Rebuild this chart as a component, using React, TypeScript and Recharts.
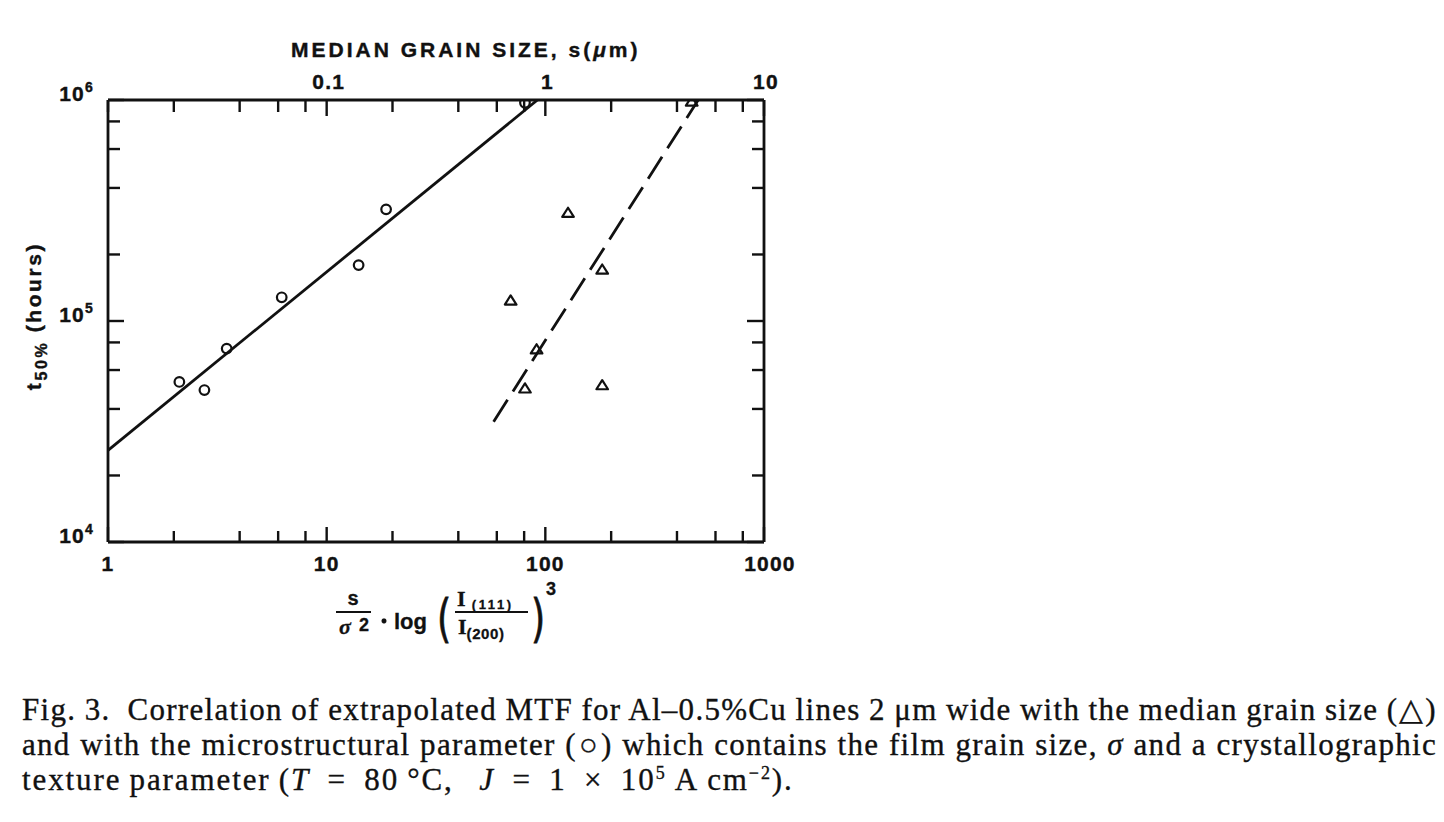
import React from 'react';
import { ComposedChart, Scatter, XAxis, YAxis } from 'recharts';

// ---- data ----
// microstructural parameter (circles): x = s/σ²·log(I111/I200)^3, y = t50% (hours)
const circleX = [2.12, 2.76, 3.49, 6.23, 14.0, 18.7, 80.7];
const circleY = [53000, 48700, 75000, 128000, 179000, 320000, 972000];
// median grain size (triangles), plotted against the top axis (s in μm = bottom/100)
const triangleX = [69.4, 80.7, 91.2, 127, 182, 182, 467];
const triangleY = [124000, 49600, 74500, 309000, 171000, 51300, 985000];
// fitted lines
const solidFitX = [1, 92];
const solidFitY = [26000, 1000000];
const dashedFitX = [58, 500];
const dashedFitY = [35000, 1000000];

// ---- axes ----
const xTicks = [1, 2, 4, 6, 8, 10, 20, 40, 60, 80, 100, 200, 400, 600, 800, 1000];
const xMajor = [1, 10, 100, 1000];
const xMajorLabels = ['1', '10', '100', '1000'];
const topTicks = [0.01, 0.02, 0.04, 0.06, 0.08, 0.1, 0.2, 0.4, 0.6, 0.8, 1, 2, 4, 6, 8, 10];
const topMajor = [0.1, 1, 10];
const topMajorLabels = ['0.1', '1', '10'];
const yTicks = [10000, 20000, 40000, 60000, 80000, 100000, 200000, 400000, 600000, 800000, 1000000];
const yMajor = [10000, 100000, 1000000];
const yMajorExp = ['4', '5', '6'];

const circleData = circleX.map((x, i) => ({ x, y: circleY[i] }));
const triangleData = triangleX.map((x, i) => ({ x, y: triangleY[i] }));
const solidData = solidFitX.map((x, i) => ({ x, y: solidFitY[i] }));
const dashedData = dashedFitX.map((x, i) => ({ x, y: dashedFitY[i] }));

const SANS = '"Liberation Sans", Arial, sans-serif';
const SERIF = '"Liberation Serif", "Times New Roman", serif';
const INK = '#111';

const idx = (arr: number[], v: number) => arr.findIndex((a) => Math.abs(a - v) / a < 1e-6);

const labelStyle = {
  fontFamily: SANS,
  fontWeight: 700,
  fontSize: 21,
  letterSpacing: 1.2,
  fill: INK,
  stroke: INK,
  strokeWidth: 0.4,
} as const;

const BottomTick = (p: any) => {
  const { x, y, payload } = p;
  const i = idx(xMajor, payload.value);
  const len = i >= 0 ? 15 : 11;
  return (
    <g>
      <line x1={x} x2={x} y1={y} y2={y - len} stroke={INK} strokeWidth={2.4} />
      {i >= 0 && (
        <text x={x + (i === 3 ? 6 : 0)} y={y + 29} textAnchor="middle" {...labelStyle}>
          {xMajorLabels[i]}
        </text>
      )}
    </g>
  );
};

const TopTick = (p: any) => {
  const { x, y, payload } = p;
  const i = idx(topMajor, payload.value);
  const len = i >= 0 ? 16 : 12;
  return (
    <g>
      <line x1={x} x2={x} y1={y} y2={y + len} stroke={INK} strokeWidth={2.4} />
      {i >= 0 && (
        <text x={x + 2} y={y - 11} textAnchor="middle" {...labelStyle}>
          {topMajorLabels[i]}
        </text>
      )}
    </g>
  );
};

const LeftTick = (p: any) => {
  const { x, y, payload } = p;
  const i = idx(yMajor, payload.value);
  const len = i >= 0 ? 16 : 12;
  return (
    <g>
      <line x1={x} x2={x + len} y1={y} y2={y} stroke={INK} strokeWidth={2.4} />
      {i >= 0 && (
        <text x={x - 14} y={y + 1} textAnchor="end" {...labelStyle}>
          <tspan>10</tspan>
          <tspan dy={-9} fontSize={14}>{yMajorExp[i]}</tspan>
        </text>
      )}
    </g>
  );
};

const RightTick = (p: any) => {
  const { x, y, payload } = p;
  const i = idx(yMajor, payload.value);
  const len = i >= 0 ? 17 : 12;
  return <line x1={x} x2={x - len} y1={y} y2={y} stroke={INK} strokeWidth={2.4} />;
};

const CircleShape = (p: any) => (
  <circle cx={p.cx} cy={p.cy} r={4.8} fill="none" stroke={INK} strokeWidth={2.2} />
);
const TriangleShape = (p: any) => {
  const { cx, cy } = p;
  return (
    <path
      d={`M${cx},${cy - 5} L${cx + 5.8},${cy + 4.2} L${cx - 5.8},${cy + 4.2} Z`}
      fill="none"
      stroke={INK}
      strokeWidth={2.2}
      strokeLinejoin="round"
    />
  );
};
const NoShape = () => <g />;

const axisCommon = {
  type: 'number' as const,
  scale: 'log' as const,
  allowDataOverflow: true,
  interval: 0 as const,
  tickLine: false,
  tickSize: 0,
  tickMargin: 0,
  axisLine: { stroke: INK, strokeWidth: 2.8 },
};

const EN = '\u2002';
const NB = '\u00a0';

export default function App() {
  return (
    <div style={{ position: 'absolute', left: 0, top: 0, width: 1444, height: 822, background: '#fff', overflow: 'hidden' }}>
      <ComposedChart
        width={1444}
        height={822}
        margin={{ top: 70, left: 48, right: 620, bottom: 250 }}
        style={{ position: 'absolute', left: 0, top: 0 }}
      >
        <XAxis {...axisCommon} xAxisId="bottom" dataKey="x" orientation="bottom" height={30} domain={[1, 1000]} ticks={xTicks} tick={<BottomTick />} />
        <XAxis {...axisCommon} xAxisId="top" dataKey="x" orientation="top" height={30} domain={[0.01, 10]} ticks={topTicks} tick={<TopTick />} />
        <YAxis {...axisCommon} yAxisId="left" dataKey="y" orientation="left" width={60} domain={[10000, 1000000]} ticks={yTicks} tick={<LeftTick />} />
        <YAxis {...axisCommon} yAxisId="right" dataKey="y" orientation="right" width={60} domain={[10000, 1000000]} ticks={yTicks} tick={<RightTick />} />

        <Scatter
          xAxisId="bottom"
          yAxisId="left"
          data={solidData}
          shape={<NoShape />}
          line={{ stroke: INK, strokeWidth: 2.8 }}
          isAnimationActive={false}
        />
        <Scatter
          xAxisId="bottom"
          yAxisId="left"
          data={dashedData}
          shape={<NoShape />}
          line={{ stroke: INK, strokeWidth: 2.8, strokeDasharray: '26 10' }}
          isAnimationActive={false}
        />
        <Scatter xAxisId="bottom" yAxisId="left" data={circleData} shape={<CircleShape />} isAnimationActive={false} />
        <Scatter xAxisId="bottom" yAxisId="left" data={triangleData} shape={<TriangleShape />} isAnimationActive={false} />
      </ComposedChart>

      {/* axis titles */}
      <svg width={1444} height={822} style={{ position: 'absolute', left: 0, top: 0, pointerEvents: 'none' }}>
        <text x={291} y={57} fontFamily={SANS} fontWeight={700} fontSize={21} letterSpacing={3} fill={INK} stroke={INK} strokeWidth={0.4}>
          MEDIAN GRAIN SIZE, s(<tspan fontStyle="italic">μ</tspan>m)
        </text>

        <text
          transform="translate(41,316) rotate(-90)"
          textAnchor="middle"
          fontFamily={SANS}
          fontWeight={700}
          fontSize={21}
          letterSpacing={2.6}
          fill={INK}
          stroke={INK}
          strokeWidth={0.4}
        >
          t<tspan dy={6} fontSize={16}>50%</tspan>
          <tspan dy={-6}> (hours)</tspan>
        </text>

        {/* x-axis formula */}
        <g fontFamily={SANS} fontWeight={700} fill={INK} stroke={INK} strokeWidth={0.3}>
          <text x={353} y={605} textAnchor="middle" fontSize={20}>s</text>
          <line x1={336} x2={371} y1={612} y2={612} stroke={INK} strokeWidth={2.2} />
          <text x={345} y={634} textAnchor="middle" fontSize={22} fontFamily={SERIF} fontStyle="italic">σ</text>
          <text x={364} y={631} textAnchor="middle" fontSize={18}>2</text>
          <circle cx={384} cy={621} r={2.4} fill={INK} />
          <text x={394} y={629} fontSize={22}>log</text>
          <text x={437} y={636} fontSize={52} fontWeight={400} strokeWidth={0.8} fontFamily='"DejaVu Sans", sans-serif' transform="translate(437,636) scale(0.7,1) translate(-437,-636)">(</text>
          <text x={457} y={606} fontSize={22} fontFamily={SERIF}>I<tspan dy={3} fontSize={13} fontFamily={SANS} letterSpacing={2.6}> (111)</tspan></text>
          <line x1={455} x2={528} y1={612} y2={612} stroke={INK} strokeWidth={2.2} />
          <text x={458} y={634} fontSize={22} fontFamily={SERIF}>I<tspan dy={5} fontSize={15} fontFamily={SANS} letterSpacing={0.6}>(200)</tspan></text>
          <text x={531} y={636} fontSize={52} fontWeight={400} strokeWidth={0.8} fontFamily='"DejaVu Sans", sans-serif' transform="translate(531,636) scale(0.7,1) translate(-531,-636)">)</text>
          <text x={546} y={595} fontSize={18}>3</text>
        </g>
      </svg>

      {/* caption */}
      <div
        style={{
          position: 'absolute',
          left: 22,
          top: 692,
          width: 1415,
          fontFamily: SERIF,
          fontSize: 31,
          lineHeight: '35px',
          letterSpacing: 1.3,
          wordSpacing: -1.5,
          color: '#111',
          WebkitTextStroke: '0.35px #111',
        }}
      >
        <div style={{ textAlign: 'justify', textAlignLast: 'justify', whiteSpace: 'nowrap' }}>
          Fig. 3.&nbsp; Correlation of extrapolated MTF for Al–0.5%Cu lines 2 μm wide with the median grain size (△)
        </div>
        <div style={{ textAlign: 'justify', textAlignLast: 'justify', whiteSpace: 'nowrap' }}>
          and with the microstructural parameter (○) which contains the film grain size, <i>σ</i> and a crystallographic
        </div>
        <div style={{ whiteSpace: 'nowrap', letterSpacing: 1.9 }}>
          texture parameter (<i>T</i>{EN}={EN}80{NB}°C,{EN} <i>J</i>{EN}={EN}1{EN}×{EN}10<sup style={{ fontSize: 18, lineHeight: 0 }}>5</sup>{NB}A{NB}cm<sup style={{ fontSize: 18, lineHeight: 0 }}>−2</sup>).
        </div>
      </div>
    </div>
  );
}
